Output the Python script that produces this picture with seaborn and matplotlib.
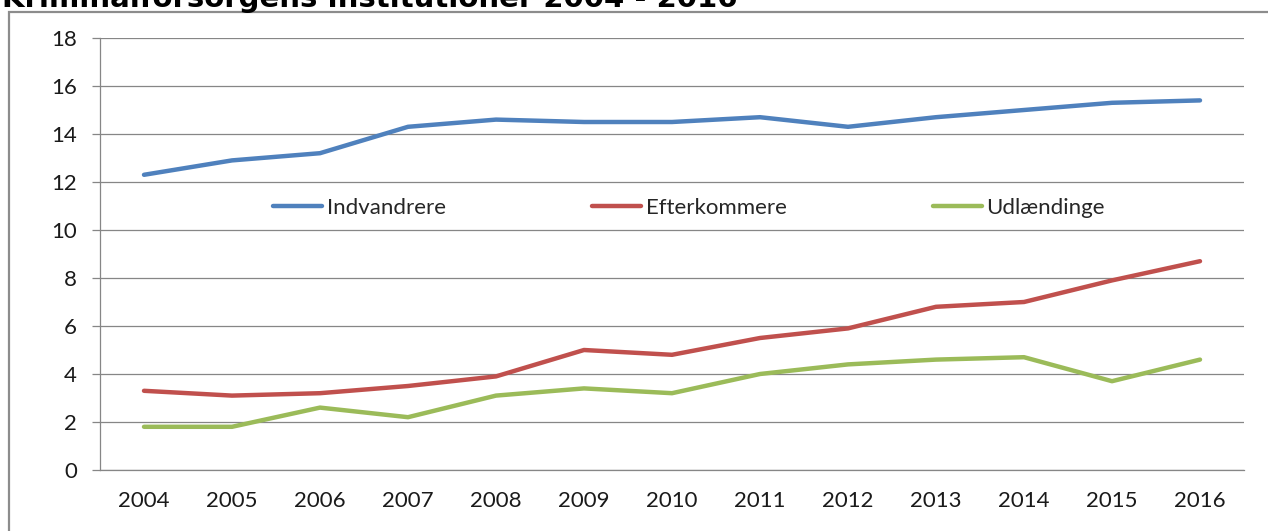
import numpy as np
import pandas as pd
import matplotlib
matplotlib.use("Agg")
import matplotlib.pyplot as plt
from matplotlib.patches import Rectangle
from matplotlib.ticker import FixedLocator
import seaborn as sns

# --- Data ---
years = [2004, 2005, 2006, 2007, 2008, 2009, 2010, 2011, 2012, 2013, 2014, 2015, 2016]
indvandrere = [12.3, 12.9, 13.2, 14.3, 14.6, 14.5, 14.5, 14.7, 14.3, 14.7, 15.0, 15.3, 15.4]
efterkommere = [3.3, 3.1, 3.2, 3.5, 3.9, 5.0, 4.8, 5.5, 5.9, 6.8, 7.0, 7.9, 8.7]
udlaendinge = [1.8, 1.8, 2.6, 2.2, 3.1, 3.4, 3.2, 4.0, 4.4, 4.6, 4.7, 3.7, 4.6]
series_names = ["Indvandrere", "Efterkommere", "Udlændinge"]
colors = ["#4F81BD", "#C0504D", "#9BBB59"]
title = "Kriminalforsorgens institutioner 2004 - 2016"

df = pd.DataFrame({
    "År": years * 3,
    "Værdi": indvandrere + efterkommere + udlaendinge,
    "Gruppe": [series_names[0]] * len(years) + [series_names[1]] * len(years)
              + [series_names[2]] * len(years),
})

sns.set_style("white")
plt.rcParams["font.family"] = ["Lato", "DejaVu Sans"]

W, H = 1268, 531
fig = plt.figure(figsize=(W / 100, H / 100), dpi=100)
ax = fig.add_axes([100 / W, 1 - 470 / H, (1244 - 100) / W, (470 - 38) / H])

sns.lineplot(data=df, x="År", y="Værdi", hue="Gruppe", hue_order=series_names,
             palette=colors, linewidth=3.2, ax=ax, legend=True)

grid_c = "#868686"
ax.set_ylim(0, 18)
ax.set_yticks(np.arange(0, 19, 2))
ax.set_xlim(years[0] - 0.5, years[-1] + 0.5)
ax.set_xticks(years)
ax.xaxis.set_minor_locator(FixedLocator(np.arange(years[0] - 0.5, years[-1] + 1, 1.0)))
ax.yaxis.grid(True, color=grid_c, linewidth=0.9)
ax.set_axisbelow(True)
ax.tick_params(axis="x", which="major", length=0, pad=15, labelsize=16, labelcolor="#1a1a1a")
ax.tick_params(axis="x", which="minor", length=6, width=0.9, color=grid_c, direction="out")
ax.tick_params(axis="y", length=5.5, width=0.9, color=grid_c, pad=11, labelsize=16,
               labelcolor="#1a1a1a", left=True)
ax.set_xlabel("")
ax.set_ylabel("")
for s in ["top", "right"]:
    ax.spines[s].set_visible(False)
for s in ["left", "bottom"]:
    ax.spines[s].set_color(grid_c)
    ax.spines[s].set_linewidth(0.9)

ax.legend(ncol=3, loc="center", bbox_to_anchor=(0.515, 0.607), frameon=False,
          fontsize=16, handlelength=2.2, handletextpad=0.2, columnspacing=6.6)

# chart border (cut by image edges)
fig.patches.append(Rectangle((9 / W, -0.1), 1.2, 1.1 - 12 / H, transform=fig.transFigure,
                             fill=False, edgecolor="#8c8c8c", linewidth=1.6))

fig.text(2 / W, 1 - 7 / H, title, fontsize=21, fontweight="bold",
         family="DejaVu Sans", ha="left", va="baseline", color="#000000")

fig.savefig("out.png", dpi=100)
